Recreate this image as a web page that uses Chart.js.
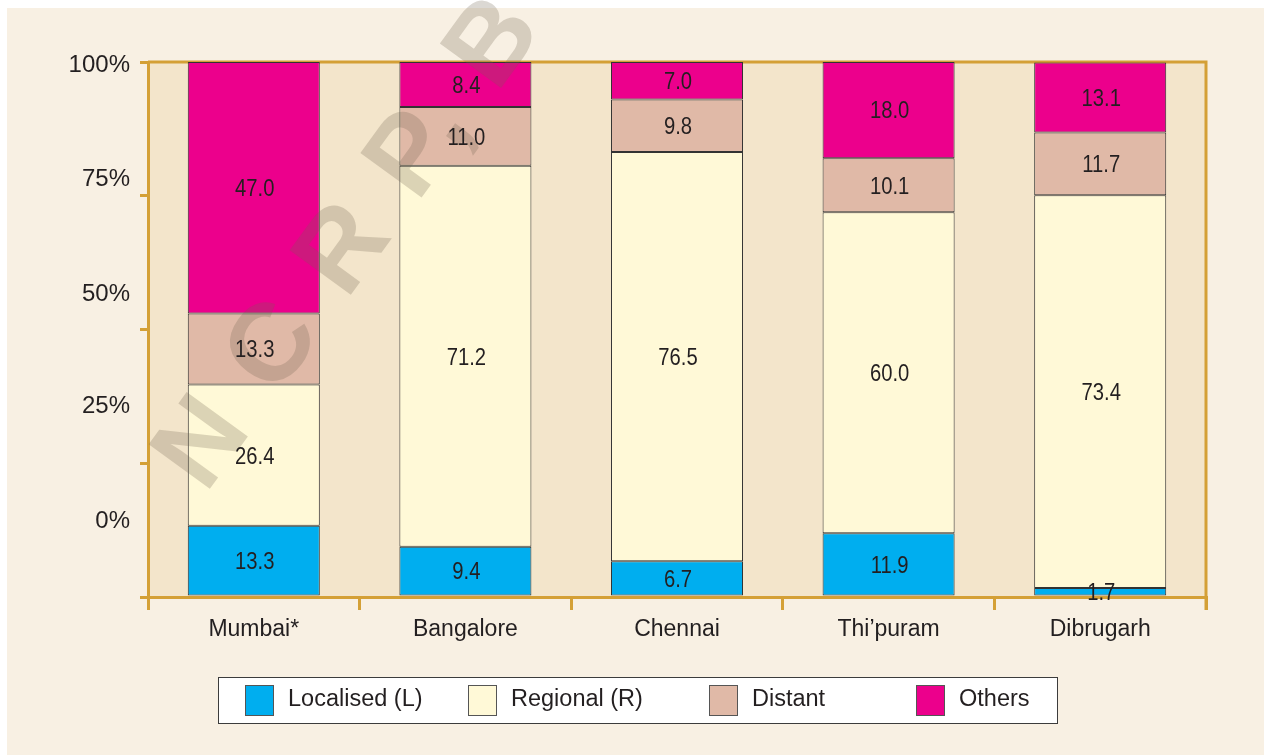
<!DOCTYPE html>
<html>
<head>
<meta charset="utf-8">
<script src="https://cdn.jsdelivr.net/npm/chart.js@4.4.1/dist/chart.umd.min.js"></script>
<style>
  body { margin: 0; background: #fff; }
</style>
</head>
<body>
<canvas id="chart" width="1264" height="755"></canvas>
<script>
const cities = ["Mumbai*", "Bangalore", "Chennai", "Thi\u2019puram", "Dibrugarh"];
const localised = [13.3, 9.4, 6.7, 11.9, 1.7];
const regional = [26.4, 71.2, 76.5, 60.0, 73.4];
const distant = [13.3, 11.0, 9.8, 10.1, 11.7];
const others = [47.0, 8.4, 7.0, 18.0, 13.1];
const seriesNames = ["Localised (L)", "Regional (R)", "Distant", "Others"];
const yTickLabels = ["100%", "75%", "50%", "25%", "0%"];
const yTickMarks = [100, 75, 50, 25, 0];
// the printed % labels in the original don't sit on their tick marks
const yLabelAt = [99.3, 78.1, 56.6, 35.7, 14.2];

const GOLD = "#d4a036";
const INK = "#231f20";
const FONT = "'Liberation Sans', Arial, sans-serif";

const backdrop = {
  id: "backdrop",
  beforeDraw(chart) {
    const { ctx, chartArea: a } = chart;
    ctx.save();
    ctx.fillStyle = "#fff";
    ctx.fillRect(0, 0, chart.width, chart.height);
    ctx.fillStyle = "#f8f0e3";
    ctx.fillRect(7, 8, chart.width - 7, chart.height - 8);
    ctx.fillStyle = "#f3e5cb";
    ctx.fillRect(a.left, a.top, a.right - a.left, a.bottom - a.top);
    ctx.restore();
  },
  beforeDatasetsDraw(chart) {
    const { ctx, chartArea: a } = chart;
    ctx.save();
    ctx.strokeStyle = GOLD;
    ctx.lineWidth = 3;
    ctx.beginPath();
    ctx.moveTo(a.left, a.top);
    ctx.lineTo(a.right, a.top);
    ctx.lineTo(a.right, a.bottom + 13);
    ctx.stroke();
    ctx.restore();
  }
};

const segmentLabels = {
  id: "segmentLabels",
  afterDatasetsDraw(chart) {
    const { ctx } = chart;

    // faint watermark across the left half
    ctx.save();
    ctx.translate(181, 477);
    ctx.rotate(-54 * Math.PI / 180);
    ctx.font = "bold 110px " + FONT;
    ctx.letterSpacing = "5px";
    ctx.fillStyle = "rgba(110, 100, 80, 0.25)";
    ctx.textBaseline = "middle";
    ctx.fillText("N C R P, B o", 0, 0);
    ctx.restore();

    ctx.save();
    ctx.fillStyle = INK;
    ctx.font = "23px " + FONT;
    ctx.textAlign = "center";
    ctx.textBaseline = "middle";
    chart.data.datasets.forEach((ds, i) => {
      chart.getDatasetMeta(i).data.forEach((bar, j) => {
        const y = (bar.y + bar.base) / 2 + 2;
        ctx.save();
        ctx.translate(bar.x + 1, y);
        ctx.scale(0.88, 1);
        ctx.fillText(ds.data[j].toFixed(1), 0, 0);
        ctx.restore();
      });
    });
    ctx.restore();
  }
};

const legendBox = {
  id: "legendBox",
  afterDraw(chart) {
    const { ctx } = chart;
    const itemX = [245, 468, 709, 916];
    ctx.save();
    ctx.fillStyle = "#fff";
    ctx.fillRect(218, 677, 839, 46);
    ctx.strokeStyle = "#3c3c3c";
    ctx.lineWidth = 1;
    ctx.strokeRect(218.5, 677.5, 839, 46);
    ctx.font = "23.5px " + FONT;
    ctx.textBaseline = "middle";
    ctx.textAlign = "left";
    chart.data.datasets.forEach((ds, i) => {
      ctx.fillStyle = ds.backgroundColor;
      ctx.fillRect(itemX[i], 685, 28, 30);
      ctx.strokeStyle = "#555";
      ctx.strokeRect(itemX[i] + 0.5, 685.5, 28, 30);
      ctx.fillStyle = INK;
      ctx.fillText(ds.label, itemX[i] + 43, 700);
    });
    ctx.restore();
  }
};

const colours = ["#00aeef", "#fff9d7", "#e0b9a7", "#ec008c"];
const seriesData = [localised, regional, distant, others];

const ctx = document.getElementById("chart").getContext("2d");
new Chart(ctx, {
  type: "bar",
  data: {
    labels: cities,
    datasets: seriesData.map((d, i) => ({
      label: seriesNames[i],
      data: d,
      backgroundColor: colours[i],
      borderColor: "#333",
      borderWidth: 1,
      borderSkipped: false,
      barPercentage: 0.624,
      categoryPercentage: 1
    }))
  },
  options: {
    responsive: false,
    animation: false,
    layout: { padding: { top: 62, right: 58, left: 0, bottom: 0 } },
    plugins: {
      legend: { display: false },
      tooltip: { enabled: false }
    },
    scales: {
      x: {
        stacked: true,
        offset: true,
        afterFit(scale) { scale.height = 158; },
        border: { display: true, color: GOLD, width: 3 },
        grid: {
          offset: true,
          drawOnChartArea: false,
          color: GOLD,
          lineWidth: 3,
          tickLength: 13
        },
        ticks: {
          color: INK,
          font: { family: FONT, size: 23 },
          padding: 6,
          maxRotation: 0
        }
      },
      y: {
        stacked: true,
        min: 0,
        max: 100,
        afterFit(scale) { scale.width = 148; },
        afterBuildTicks(scale) {
          scale.ticks = yTickMarks.concat(yLabelAt).map(v => ({ value: v }));
        },
        border: { display: true, color: GOLD, width: 3 },
        grid: {
          drawOnChartArea: false,
          lineWidth: 3,
          tickLength: 8,
          color: c => (c.tick && yTickMarks.includes(c.tick.value)) ? GOLD : "rgba(0,0,0,0)"
        },
        ticks: {
          autoSkip: false,
          color: INK,
          padding: 10,
          font: { family: FONT, size: 24 },
          callback: v => {
            const i = yLabelAt.indexOf(v);
            return i >= 0 ? yTickLabels[i] : "";
          }
        }
      }
    }
  },
  plugins: [backdrop, segmentLabels, legendBox]
});
</script>
</body>
</html>
